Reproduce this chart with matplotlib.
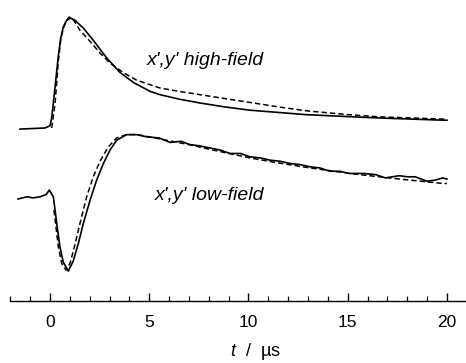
import matplotlib
matplotlib.use('Agg')
import matplotlib.pyplot as plt
from matplotlib.ticker import MultipleLocator

plt.rcParams['font.family'] = ['Liberation Sans', 'DejaVu Sans']
plt.rcParams['mathtext.fontset'] = 'custom'
plt.rcParams['mathtext.it'] = 'Liberation Sans:italic'
plt.rcParams['mathtext.rm'] = 'Liberation Sans'

# time axis in microseconds, signals normalised to the high-field peak
t_high = [-1.51, -0.25, 0.0, 0.086, 0.25, 0.42, 0.54, 0.67, 0.84, 1.04, 1.26, 1.68,
          2.18, 2.86, 3.53, 4.20, 5.04, 5.54, 6.5, 7.56, 8.8, 10.08, 11.5, 12.9,
          14.7, 16.6, 18.2, 19.85, 20.0]
y_high = [-0.01, 0.0, 0.02, 0.09, 0.36, 0.65, 0.81, 0.91, 0.97, 0.99, 0.97, 0.90,
          0.79, 0.63, 0.50, 0.41, 0.33, 0.30, 0.26, 0.225, 0.19, 0.16, 0.14, 0.12,
          0.105, 0.09, 0.08, 0.07, 0.07]

t_high_fit = [0.086, 0.25, 0.42, 0.54, 0.67, 0.84, 0.97, 1.2, 1.51, 2.02, 2.52, 3.02,
              3.68, 4.37, 5.04, 5.54, 6.5, 7.56, 8.8, 10.08, 11.5, 12.9, 14.7, 16.6,
              18.2, 19.85, 20.0]
y_high_fit = [0.0, 0.21, 0.60, 0.79, 0.90, 0.97, 1.00, 0.97, 0.88, 0.78, 0.675, 0.585,
              0.50, 0.43, 0.39, 0.36, 0.33, 0.30, 0.265, 0.23, 0.19, 0.155, 0.125,
              0.10, 0.09, 0.08, 0.08]

t_low = [-1.61, -1.16, -0.86, -0.50, -0.2, -0.035, 0.17, 0.34, 0.50, 0.67, 0.92, 1.17,
         1.43, 1.68, 2.02, 2.35, 2.69, 3.02, 3.36, 3.86, 4.37, 4.87, 5.5, 6.05, 6.6,
         7.05, 7.5, 8.06, 8.6, 9.07, 9.6, 10.08, 10.6, 11.08, 11.6, 12.09, 12.6, 13.10,
         13.6, 14.1, 14.6, 15.1, 15.8, 16.4, 16.9, 17.6, 18.0, 18.4, 19.0, 19.4, 19.8,
         20.0]
y_low = [0.0, 0.02, 0.01, 0.02, 0.04, 0.08, 0.02, -0.22, -0.43, -0.57, -0.65, -0.56,
         -0.40, -0.22, -0.01, 0.17, 0.32, 0.44, 0.53, 0.58, 0.58, 0.56, 0.55, 0.51,
         0.52, 0.49, 0.48, 0.46, 0.44, 0.41, 0.41, 0.38, 0.37, 0.35, 0.34, 0.32, 0.31,
         0.29, 0.28, 0.25, 0.25, 0.23, 0.23, 0.22, 0.19, 0.21, 0.20, 0.20, 0.16, 0.17,
         0.19, 0.18]

t_low_fit = [0.20, 0.30, 0.42, 0.59, 0.81, 1.01, 1.26, 1.51, 1.85, 2.18, 2.52, 2.94,
             3.36, 3.86, 4.4, 5.0, 6.0, 7.0, 8.5, 10.08, 11.5, 13.1, 15.1, 17.6, 19.8,
             20.0]
y_low_fit = [-0.10, -0.25, -0.43, -0.58, -0.64, -0.58, -0.41, -0.22, 0.02, 0.20, 0.34,
             0.47, 0.55, 0.58, 0.58, 0.56, 0.525, 0.49, 0.43, 0.37, 0.325, 0.28, 0.23,
             0.18, 0.14, 0.14]

labels = ["x',y' high-field", "x',y' low-field"]
offset_high = 1.559
offset_low = 0.919

fig = plt.figure(figsize=(4.66, 3.63), dpi=100)
ax = fig.add_axes([10 / 466, 62 / 363, 456 / 466, 301 / 363])

ax.plot(t_high, [v + offset_high for v in y_high], 'k-', lw=1.2)
ax.plot(t_high_fit, [v + offset_high for v in y_high_fit], 'k--', lw=1.1, dashes=(3.5, 2))
ax.plot(t_low, [v + offset_low for v in y_low], 'k-', lw=1.2)
ax.plot(t_low_fit, [v + offset_low for v in y_low_fit], 'k--', lw=1.1, dashes=(3.5, 2))

ax.text(4.87, 2.17, labels[0], style='italic', fontsize=14, va='center')
ax.text(5.27, 0.955, labels[1], style='italic', fontsize=14, va='center')

ax.set_xlim(-2.015, 20.96)
ax.set_ylim(0, 2.712)
for s in ['top', 'left', 'right']:
    ax.spines[s].set_visible(False)
ax.spines['bottom'].set_linewidth(1.0)
ax.set_yticks([])
ax.xaxis.set_major_locator(MultipleLocator(5))
ax.xaxis.set_minor_locator(MultipleLocator(1))
ax.tick_params(axis='x', which='major', direction='in', length=6, width=1.0,
               pad=10, labelsize=12.5)
ax.tick_params(axis='x', which='minor', direction='in', length=3.5, width=0.9)
ax.set_xlabel('$t$  /  µs', fontsize=13, labelpad=8, x=0.539)

fig.savefig('out.png', dpi=100)
